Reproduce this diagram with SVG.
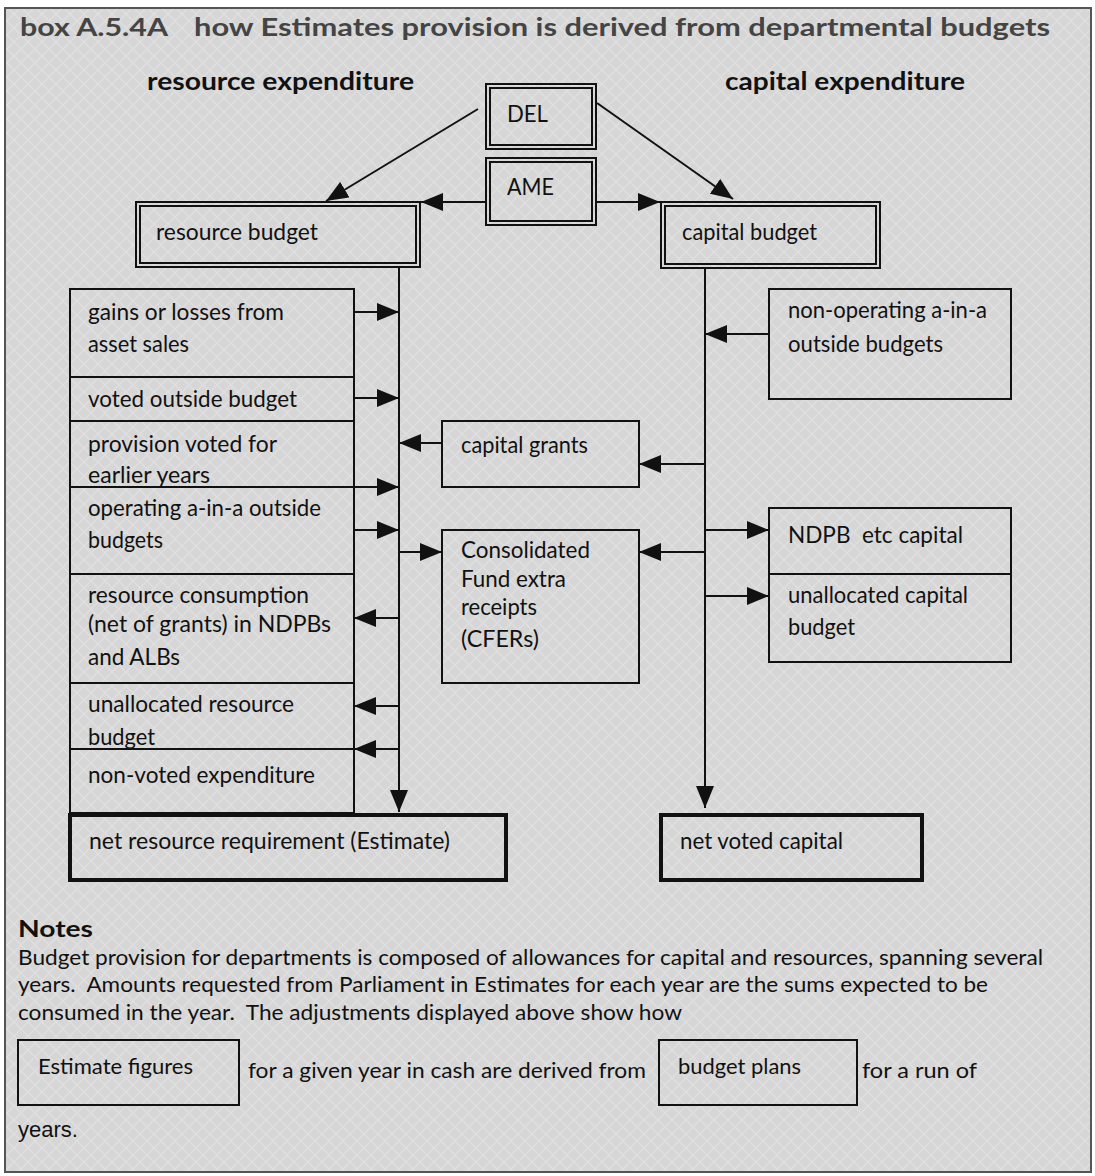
<svg xmlns="http://www.w3.org/2000/svg" width="1095" height="1176" viewBox="0 0 1095 1176">
<style>
.t{font-family:Lato,"Open Sans","Liberation Sans",sans-serif;font-size:23px;fill:#111}
.b{font-family:Lato,"Open Sans","Liberation Sans",sans-serif;font-weight:bold;fill:#111}
.box{fill:none;stroke:#111;stroke-width:2}
.thick{fill:none;stroke:#111;stroke-width:4}
.ln{fill:none;stroke:#111;stroke-width:2}
</style>
<defs>
<pattern id="tex" width="14" height="14" patternUnits="userSpaceOnUse">
<rect width="14" height="14" fill="#d6d6d6"/>
<path d="M0,0 L14,14 M14,0 L0,14" stroke="#dfdfdf" stroke-width="1.5"/>
</pattern>
<marker id="ah" markerUnits="userSpaceOnUse" markerWidth="22" markerHeight="18" refX="22" refY="9" orient="auto">
<path d="M0,0 L22,9 L0,18 z" fill="#111"/>
</marker>
</defs>
<rect x="0" y="0" width="1095" height="1176" fill="#fff"/>
<rect x="5" y="8" width="1086" height="1164" fill="url(#tex)" stroke="#555" stroke-width="2"/>

<g id="title">
<text class="b" x="20" y="36" font-size="25" fill="#444" style="fill:#444" textLength="148" lengthAdjust="spacingAndGlyphs">box A.5.4A</text>
<text class="b" x="194" y="36" font-size="25" style="fill:#444" textLength="856" lengthAdjust="spacingAndGlyphs">how Estimates provision is derived from departmental budgets</text>
</g>
<g id="headers">
<text class="b" x="147" y="90" font-size="24" textLength="267" lengthAdjust="spacingAndGlyphs">resource expenditure</text>
<text class="b" x="725" y="90" font-size="24" textLength="240" lengthAdjust="spacingAndGlyphs">capital expenditure</text>
</g>

<g id="connectors">
<line class="ln" x1="478" y1="109" x2="326" y2="201" marker-end="url(#ah)"/>
<line class="ln" x1="597" y1="103" x2="733" y2="199" marker-end="url(#ah)"/>
<line class="ln" x1="486" y1="202" x2="421" y2="202" marker-end="url(#ah)"/>
<line class="ln" x1="596" y1="202" x2="660" y2="202" marker-end="url(#ah)"/>
<line class="ln" x1="399" y1="267" x2="399" y2="812" marker-end="url(#ah)"/>
<line class="ln" x1="705" y1="268" x2="705" y2="808" marker-end="url(#ah)"/>
<line class="ln" x1="354" y1="312" x2="399" y2="312" marker-end="url(#ah)"/>
<line class="ln" x1="354" y1="398" x2="399" y2="398" marker-end="url(#ah)"/>
<line class="ln" x1="354" y1="487" x2="399" y2="487" marker-end="url(#ah)"/>
<line class="ln" x1="354" y1="530" x2="399" y2="530" marker-end="url(#ah)"/>
<line class="ln" x1="399" y1="618" x2="354" y2="618" marker-end="url(#ah)"/>
<line class="ln" x1="399" y1="706" x2="354" y2="706" marker-end="url(#ah)"/>
<line class="ln" x1="399" y1="749" x2="354" y2="749" marker-end="url(#ah)"/>
<line class="ln" x1="442" y1="443" x2="399" y2="443" marker-end="url(#ah)"/>
<line class="ln" x1="399" y1="552" x2="442" y2="552" marker-end="url(#ah)"/>
<line class="ln" x1="705" y1="464" x2="639" y2="464" marker-end="url(#ah)"/>
<line class="ln" x1="705" y1="552" x2="639" y2="552" marker-end="url(#ah)"/>
<line class="ln" x1="769" y1="334" x2="705" y2="334" marker-end="url(#ah)"/>
<line class="ln" x1="705" y1="530" x2="769" y2="530" marker-end="url(#ah)"/>
<line class="ln" x1="705" y1="596" x2="769" y2="596" marker-end="url(#ah)"/>
</g>

<g id="del">
<rect class="box" x="486" y="84" width="110" height="65"/>
<rect class="box" x="490" y="88" width="102" height="57"/>
<text class="t" x="507" y="122" textLength="41" lengthAdjust="spacingAndGlyphs">DEL</text>
</g>
<g id="ame">
<rect class="box" x="486" y="158" width="110" height="67"/>
<rect class="box" x="490" y="162" width="102" height="59"/>
<text class="t" x="507" y="195" textLength="47" lengthAdjust="spacingAndGlyphs">AME</text>
</g>
<g id="resource-budget">
<rect class="box" x="136" y="202" width="284" height="65"/>
<rect class="box" x="140" y="206" width="276" height="57"/>
<text class="t" x="156" y="240" textLength="162" lengthAdjust="spacingAndGlyphs">resource budget</text>
</g>
<g id="capital-budget">
<rect class="box" x="661" y="202" width="219" height="66"/>
<rect class="box" x="665" y="206" width="211" height="58"/>
<text class="t" x="682" y="240" textLength="135" lengthAdjust="spacingAndGlyphs">capital budget</text>
</g>

<g id="gains">
<rect class="box" x="70" y="289" width="284" height="88"/>
<text class="t" x="88" y="320" textLength="196" lengthAdjust="spacingAndGlyphs">gains or losses from</text>
<text class="t" x="88" y="352" textLength="101" lengthAdjust="spacingAndGlyphs">asset sales</text>
</g>
<g id="voted-outside">
<rect class="box" x="70" y="377" width="284" height="44"/>
<text class="t" x="88" y="407" textLength="209" lengthAdjust="spacingAndGlyphs">voted outside budget</text>
</g>
<g id="provision-earlier">
<rect class="box" x="70" y="421" width="284" height="66"/>
<text class="t" x="88" y="452" textLength="189" lengthAdjust="spacingAndGlyphs">provision voted for</text>
<text class="t" x="88" y="483" textLength="122" lengthAdjust="spacingAndGlyphs">earlier years</text>
</g>
<g id="operating-aina">
<rect class="box" x="70" y="487" width="284" height="87"/>
<text class="t" x="88" y="516" textLength="233" lengthAdjust="spacingAndGlyphs">operating a-in-a outside</text>
<text class="t" x="88" y="548" textLength="75" lengthAdjust="spacingAndGlyphs">budgets</text>
</g>
<g id="resource-consumption">
<rect class="box" x="70" y="574" width="284" height="109"/>
<text class="t" x="88" y="603" textLength="221" lengthAdjust="spacingAndGlyphs">resource consumption</text>
<text class="t" x="88" y="632" textLength="243" lengthAdjust="spacingAndGlyphs">(net of grants) in NDPBs</text>
<text class="t" x="88" y="665" textLength="92" lengthAdjust="spacingAndGlyphs">and ALBs</text>
</g>
<g id="unallocated-resource">
<rect class="box" x="70" y="683" width="284" height="66"/>
<text class="t" x="88" y="712" textLength="206" lengthAdjust="spacingAndGlyphs">unallocated resource</text>
<text class="t" x="88" y="745" textLength="67" lengthAdjust="spacingAndGlyphs">budget</text>
</g>
<g id="non-voted">
<rect class="box" x="70" y="749" width="284" height="64"/>
<text class="t" x="88" y="783" textLength="227" lengthAdjust="spacingAndGlyphs">non-voted expenditure</text>
</g>
<g id="net-resource">
<rect class="thick" x="70" y="815" width="436" height="65"/>
<text class="t" x="89" y="849" textLength="361" lengthAdjust="spacingAndGlyphs">net resource requirement (Estimate)</text>
</g>

<g id="capital-grants">
<rect class="box" x="442" y="421" width="197" height="66"/>
<text class="t" x="461" y="453" textLength="127" lengthAdjust="spacingAndGlyphs">capital grants</text>
</g>
<g id="cfers">
<rect class="box" x="442" y="530" width="197" height="153"/>
<text class="t" x="461" y="558" textLength="129" lengthAdjust="spacingAndGlyphs">Consolidated</text>
<text class="t" x="461" y="587" textLength="105" lengthAdjust="spacingAndGlyphs">Fund extra</text>
<text class="t" x="461" y="615" textLength="76" lengthAdjust="spacingAndGlyphs">receipts</text>
<text class="t" x="461" y="647" textLength="78" lengthAdjust="spacingAndGlyphs">(CFERs)</text>
</g>

<g id="non-operating">
<rect class="box" x="769" y="289" width="242" height="110"/>
<text class="t" x="788" y="318" textLength="199" lengthAdjust="spacingAndGlyphs">non-operating a-in-a</text>
<text class="t" x="788" y="352" textLength="155" lengthAdjust="spacingAndGlyphs">outside budgets</text>
</g>
<g id="ndpb-capital">
<rect class="box" x="769" y="508" width="242" height="66"/>
<text class="t" x="788" y="543" textLength="175" lengthAdjust="spacingAndGlyphs" style="white-space:pre">NDPB  etc capital</text>
</g>
<g id="unallocated-capital">
<rect class="box" x="769" y="574" width="242" height="88"/>
<text class="t" x="788" y="603" textLength="180" lengthAdjust="spacingAndGlyphs">unallocated capital</text>
<text class="t" x="788" y="635" textLength="67" lengthAdjust="spacingAndGlyphs">budget</text>
</g>
<g id="net-voted-capital">
<rect class="thick" x="661" y="815" width="261" height="65"/>
<text class="t" x="680" y="849" textLength="163" lengthAdjust="spacingAndGlyphs">net voted capital</text>
</g>

<g id="notes">
<text class="b" x="18" y="937" font-size="23" textLength="75" lengthAdjust="spacingAndGlyphs">Notes</text>
<text class="t" x="18" y="965" font-size="21" style="font-size:21px" textLength="1025" lengthAdjust="spacingAndGlyphs">Budget provision for departments is composed of allowances for capital and resources, spanning several</text>
<text class="t" x="18" y="992" style="font-size:21px;white-space:pre" textLength="970" lengthAdjust="spacingAndGlyphs">years.  Amounts requested from Parliament in Estimates for each year are the sums expected to be</text>
<text class="t" x="18" y="1020" style="font-size:21px;white-space:pre" textLength="664" lengthAdjust="spacingAndGlyphs">consumed in the year.  The adjustments displayed above show how</text>
<text class="t" x="248" y="1078" style="font-size:21px" textLength="398" lengthAdjust="spacingAndGlyphs">for a given year in cash are derived from</text>
<text class="t" x="862" y="1078" style="font-size:21px" textLength="115" lengthAdjust="spacingAndGlyphs">for a run of</text>
<text x="18" y="1137" font-family="'Liberation Sans',Arial,sans-serif" font-size="22" fill="#111" textLength="60" lengthAdjust="spacingAndGlyphs">years.</text>
</g>
<g id="estimate-figures">
<rect class="box" x="18" y="1040" width="221" height="65"/>
<text class="t" x="38" y="1074" style="font-size:21px" textLength="155" lengthAdjust="spacingAndGlyphs">Estimate figures</text>
</g>
<g id="budget-plans">
<rect class="box" x="659" y="1040" width="198" height="65"/>
<text class="t" x="678" y="1074" style="font-size:21px" textLength="123" lengthAdjust="spacingAndGlyphs">budget plans</text>
</g>
</svg>
